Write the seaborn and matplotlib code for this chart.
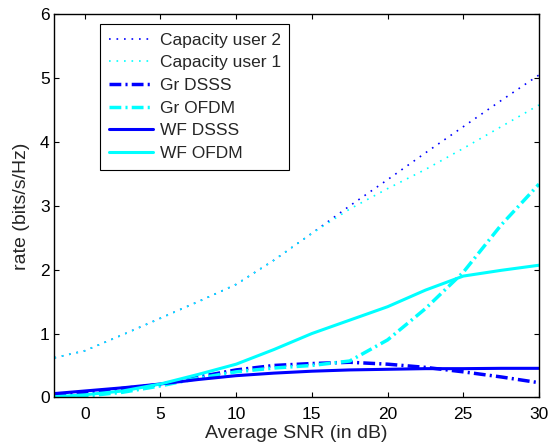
import matplotlib
matplotlib.use("Agg")
import matplotlib.pyplot as plt
import seaborn as sns
import pandas as pd

snr = [-2, 0, 2.5, 5, 7.5, 10, 12.5, 15, 17.5, 20, 22.5, 25, 27.5, 30]
cap_user2 = [0.62, 0.73, 0.98, 1.24, 1.50, 1.77, 2.15, 2.57, 3.00, 3.41, 3.83, 4.24, 4.65, 5.05]
cap_user1 = [0.62, 0.73, 0.98, 1.24, 1.50, 1.77, 2.15, 2.57, 2.95, 3.27, 3.57, 3.90, 4.24, 4.58]
gr_dsss = [0.04, 0.08, 0.14, 0.20, 0.32, 0.43, 0.50, 0.53, 0.55, 0.52, 0.47, 0.40, 0.32, 0.23]
gr_ofdm = [0.00, 0.02, 0.08, 0.18, 0.30, 0.40, 0.46, 0.50, 0.57, 0.90, 1.39, 1.96, 2.70, 3.34]
wf_dsss = [0.06, 0.10, 0.15, 0.21, 0.28, 0.34, 0.38, 0.41, 0.43, 0.44, 0.45, 0.45, 0.455, 0.455]
wf_ofdm = [0.01, 0.04, 0.10, 0.21, 0.36, 0.52, 0.75, 1.00, 1.21, 1.42, 1.68, 1.90, 1.99, 2.07]

labels = ["Capacity user 2", "Capacity user 1", "Gr DSSS", "Gr OFDM", "WF DSSS", "WF OFDM"]
series = [cap_user2, cap_user1, gr_dsss, gr_ofdm, wf_dsss, wf_ofdm]
colors = ["#0000ff", "#00ffff", "#0000ff", "#00ffff", "#0000ff", "#00ffff"]
styles = [(0, (1, 3.5)), (0, (1, 3.5)), (0, (3.4, 1.2, 0.6, 1.2)), (0, (3.4, 1.2, 0.6, 1.2)), "-", "-"]
widths = [1.2, 1.2, 2.5, 2.5, 2.2, 2.2]

sns.set_theme(style="ticks")
plt.rcParams["font.family"] = ["Liberation Sans", "DejaVu Sans"]

fig = plt.figure(figsize=(5.5, 4.48), dpi=100)
ax = fig.add_axes([0.099, 0.113, 0.881, 0.855])

for lab, y, c, ls, lw in zip(labels, series, colors, styles, widths):
    df = pd.DataFrame({"snr": snr, "rate": y})
    sns.lineplot(data=df, x="snr", y="rate", ax=ax, color=c, linestyle=ls,
                 linewidth=lw, label=lab)

ax.set_xlim(-2, 30)
ax.set_ylim(0, 6)
ax.set_xticks([0, 5, 10, 15, 20, 25, 30])
ax.set_yticks([0, 1, 2, 3, 4, 5, 6])
ax.tick_params(direction="in", top=True, right=True, labelsize=12.5, length=3.6,
               width=0.8, colors="black")
ax.tick_params(axis="x", pad=7)
ax.tick_params(axis="y", pad=3.5)
for s in ax.spines.values():
    s.set_linewidth(1.0)
    s.set_color("black")
ax.set_xlabel("Average SNR (in dB)", fontsize=14, labelpad=2)
ax.set_ylabel("rate (bits/s/Hz)", fontsize=14, labelpad=7)

leg = ax.legend(loc="upper left", bbox_to_anchor=(0.095, 0.975), fontsize=12.5,
                frameon=True, fancybox=False, edgecolor="black", framealpha=1,
                handlelength=2.5, handletextpad=0.4, labelspacing=0.43,
                borderpad=0.5, borderaxespad=0)
leg.get_frame().set_linewidth(0.8)

fig.savefig("out.png", dpi=100)
